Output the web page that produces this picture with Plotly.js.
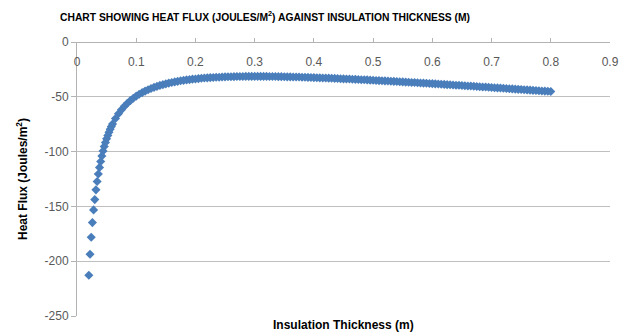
<!DOCTYPE html>
<html>
<head>
<meta charset="utf-8">
<script src="https://cdn.plot.ly/plotly-3.0.1.min.js"></script>
<style>
  html, body { margin: 0; padding: 0; background: #ffffff; }
  #chart { width: 623px; height: 333px; }
</style>
</head>
<body>
<div id="chart"></div>
<script>
// Insulation thickness (m)
const thickness = [
  0.020,0.022,0.024,0.026,0.028,0.030,0.032,0.034,0.036,0.038,
  0.040,0.042,0.044,0.046,0.048,0.050,0.052,0.054,0.056,0.058,
  0.060,
  0.065,0.070,0.075,0.080,0.085,0.090,0.095,0.100,0.105,0.110,
  0.115,0.120,0.125,0.130,0.135,0.140,0.145,0.150,0.155,0.160,
  0.165,0.170,0.175,0.180,0.185,0.190,0.195,0.200,0.205,0.210,
  0.215,0.220,0.225,0.230,0.235,0.240,0.245,0.250,0.255,0.260,
  0.265,0.270,0.275,0.280,0.285,0.290,0.295,0.300,0.305,0.310,
  0.315,0.320,0.325,0.330,0.335,0.340,0.345,0.350,0.355,0.360,
  0.365,0.370,0.375,0.380,0.385,0.390,0.395,0.400,0.405,0.410,
  0.415,0.420,0.425,0.430,0.435,0.440,0.445,0.450,0.455,0.460,
  0.465,0.470,0.475,0.480,0.485,0.490,0.495,0.500,0.505,0.510,
  0.515,0.520,0.525,0.530,0.535,0.540,0.545,0.550,0.555,0.560,
  0.565,0.570,0.575,0.580,0.585,0.590,0.595,0.600,0.605,0.610,
  0.615,0.620,0.625,0.630,0.635,0.640,0.645,0.650,0.655,0.660,
  0.665,0.670,0.675,0.680,0.685,0.690,0.695,0.700,0.705,0.710,
  0.715,0.720,0.725,0.730,0.735,0.740,0.745,0.750,0.755,0.760,
  0.765,0.770,0.775,0.780,0.785,0.790,0.795,0.800
];

// Heat flux (Joules/m^2)
const heatFlux = [
  -212.8,-193.6,-178.1,-164.8,-153.2,-143.8,-134.9,-127.3,-120.5,-114.4,
  -109.0,-104.0,-99.5,-95.4,-91.7,-88.3,-85.2,-82.3,-79.6,-77.2,
  -74.9,
  -69.8,-65.5,-61.9,-58.7,-55.9,-53.5,-51.3,-49.4,-47.7,-46.2,
  -44.8,-43.6,-42.4,-41.4,-40.5,-39.6,-38.9,-38.2,-37.5,-36.9,
  -36.4,-35.9,-35.4,-35.0,-34.6,-34.3,-33.9,-33.7,-33.4,-33.1,
  -32.9,-32.7,-32.5,-32.4,-32.2,-32.1,-32.0,-31.8,-31.7,-31.7,
  -31.6,-31.5,-31.5,-31.5,-31.4,-31.4,-31.4,-31.4,-31.4,-31.4,
  -31.4,-31.4,-31.5,-31.5,-31.5,-31.6,-31.6,-31.7,-31.8,-31.8,
  -31.9,-32.0,-32.0,-32.1,-32.2,-32.3,-32.4,-32.5,-32.6,-32.7,
  -32.8,-32.9,-33.0,-33.1,-33.2,-33.3,-33.5,-33.6,-33.7,-33.8,
  -34.0,-34.1,-34.2,-34.4,-34.5,-34.6,-34.8,-34.9,-35.1,-35.2,
  -35.3,-35.5,-35.6,-35.8,-35.9,-36.1,-36.2,-36.4,-36.6,-36.7,
  -36.9,-37.0,-37.2,-37.4,-37.5,-37.7,-37.8,-38.0,-38.2,-38.3,
  -38.5,-38.7,-38.9,-39.0,-39.2,-39.4,-39.5,-39.7,-39.9,-40.1,
  -40.2,-40.4,-40.6,-40.8,-41.0,-41.1,-41.3,-41.5,-41.7,-41.9,
  -42.0,-42.2,-42.4,-42.6,-42.8,-43.0,-43.2,-43.3,-43.5,-43.7,
  -43.9,-44.1,-44.3,-44.5,-44.7,-44.8,-45.0,-45.2
];

const xTickValues = [0, 0.1, 0.2, 0.3, 0.4, 0.5, 0.6, 0.7, 0.8, 0.9];
const xTickLabels = ['0', '0.1', '0.2', '0.3', '0.4', '0.5', '0.6', '0.7', '0.8', '0.9'];
const yTickValues = [0, -50, -100, -150, -200, -250];
const yTickLabels = ['0', '-50', '-100', '-150', '-200', '-250'];

const chartTitle = 'CHART SHOWING HEAT FLUX (JOULES/M<sup>2</sup>) AGAINST INSULATION THICKNESS (M)';
const xTitle = 'Insulation Thickness (m)';
const yTitle = 'Heat Flux (Joules/m<sup>2</sup>)';

const axisGray = '#b3b3b3';
const labelGray = '#595959';

const trace = {
  type: 'scatter',
  mode: 'markers',
  x: thickness,
  y: heatFlux,
  marker: { symbol: 'diamond', size: 7, color: '#4A7EBB', line: { width: 0 } },
  hoverinfo: 'x+y',
  showlegend: false
};

const layout = {
  width: 623,
  height: 333,
  margin: { l: 77, r: 13, t: 42, b: 17, pad: 0 },
  paper_bgcolor: '#ffffff',
  plot_bgcolor: '#ffffff',
  font: { family: 'Liberation Sans, Arial, sans-serif', size: 12, color: labelGray },
  title: {
    text: chartTitle,
    font: { family: 'Liberation Sans, Arial, sans-serif', size: 10.3, color: '#000000', weight: 'bold' },
    x: 265 / 623,
    xref: 'container',
    xanchor: 'center',
    y: 1 - 17 / 333,
    yref: 'container',
    yanchor: 'middle'
  },
  xaxis: {
    range: [0, 0.9],
    side: 'bottom',
    anchor: 'free',
    position: 1,
    tickmode: 'array',
    tickvals: xTickValues,
    ticktext: xTickLabels,
    ticks: 'inside',
    ticklen: 4,
    tickcolor: axisGray,
    ticklabelstandoff: 9,
    tickfont: { size: 12, color: labelGray },
    showline: true,
    linecolor: axisGray,
    linewidth: 1,
    showgrid: false,
    zeroline: false,
    automargin: false,
    fixedrange: true
  },
  yaxis: {
    range: [-250, 0],
    tickmode: 'array',
    tickvals: yTickValues,
    ticktext: yTickLabels,
    ticks: 'outside',
    ticklen: 5,
    tickcolor: axisGray,
    tickfont: { size: 12, color: labelGray },
    showline: true,
    linecolor: axisGray,
    linewidth: 1,
    showgrid: true,
    gridcolor: '#bfbfbf',
    gridwidth: 1,
    zeroline: false,
    automargin: false,
    title: {
      text: yTitle,
      font: { family: 'Liberation Sans, Arial, sans-serif', size: 12, color: '#000000', weight: 'bold' },
      standoff: 14
    },
    fixedrange: true
  },
  annotations: [{
    text: xTitle,
    xref: 'paper',
    yref: 'paper',
    x: 0.5,
    y: -(325 - 316) / 274,
    xanchor: 'center',
    yanchor: 'middle',
    showarrow: false,
    font: { family: 'Liberation Sans, Arial, sans-serif', size: 12, color: '#000000', weight: 'bold' }
  }]
};

Plotly.newPlot('chart', [trace], layout, { displayModeBar: false, staticPlot: true });
</script>
</body>
</html>
